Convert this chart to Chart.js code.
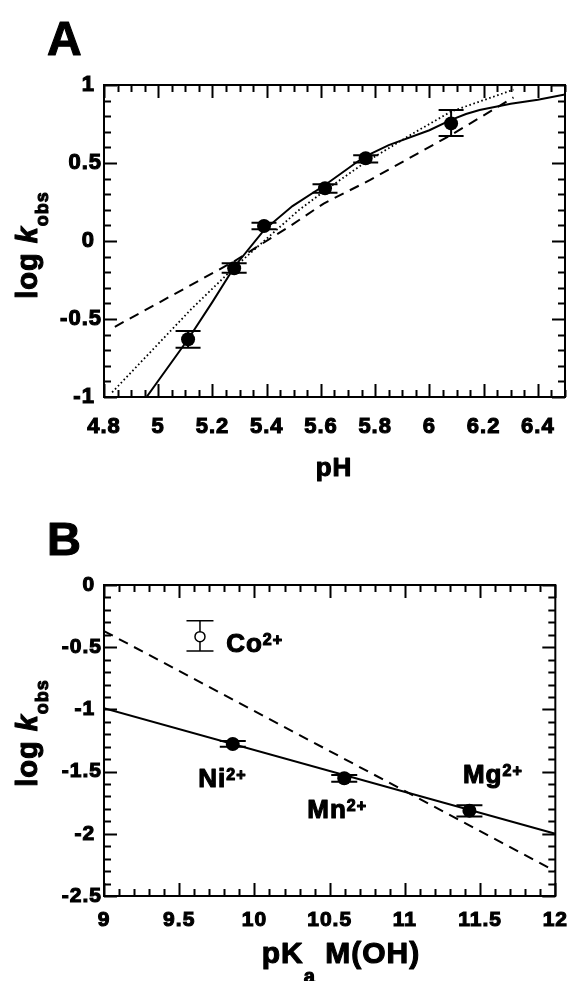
<!DOCTYPE html>
<html>
<head>
<meta charset="utf-8">
<script src="https://cdn.jsdelivr.net/npm/chart.js@4.4.1/dist/chart.umd.min.js"></script>
<style>
  html, body { margin: 0; padding: 0; background: #fff; }
  .panel { position: absolute; left: 0; width: 579px; }
  #panelA { top: 0; height: 490px; }
  #panelB { top: 490px; height: 491px; }
</style>
</head>
<body>
<div class="panel" id="panelA"><canvas id="chartA" width="579" height="490"></canvas></div>
<div class="panel" id="panelB"><canvas id="chartB" width="579" height="491"></canvas></div>
<script>
const FONT = "'Liberation Sans', Arial, Helvetica, sans-serif"
const bold = px => `bold ${px}px ${FONT}`
const TEXT_STROKE = 1.1

// Panel A: log kobs against pH
const phObs = [5.11, 5.28, 5.39, 5.615, 5.765, 6.08]
const logkA = [-0.63, -0.175, 0.096, 0.338, 0.53, 0.754]
const errHighA = [-0.577, -0.143, 0.117, 0.363, 0.55, 0.84]
const errLowA = [-0.684, -0.203, 0.075, 0.31, 0.504, 0.673]

// fitted curves
const solidPh = [4.957, 5.11, 5.2, 5.283, 5.39, 5.495, 5.615, 5.76, 5.85, 6.0, 6.08, 6.135, 6.185, 6.3, 6.4, 6.5]
const solidLogk = [-1, -0.63, -0.39, -0.16, 0.07, 0.224, 0.359, 0.54, 0.615, 0.71, 0.776, 0.814, 0.84, 0.88, 0.905, 0.94]
const dashedPh = [4.84, 5.28, 5.49, 5.61, 5.78, 6.08, 6.31]
const dashedLogk = [-0.55, -0.13, 0.1, 0.24, 0.39, 0.68, 0.92]
const dottedPh = [4.83, 5.12, 5.28, 5.39, 5.52, 5.62, 5.76, 5.94, 6.08, 6.31]
const dottedLogk = [-0.97, -0.44, -0.17, 0.0, 0.2, 0.33, 0.5, 0.69, 0.83, 0.97]

const xTicksA = [4.8, 5, 5.2, 5.4, 5.6, 5.8, 6, 6.2, 6.4]
const yTicksA = [-1, -0.5, 0, 0.5, 1]

// Panel B: log kobs against pKa of M(OH)
const ionNames = ['Ni', 'Mn', 'Mg']
const pkaIon = [9.856, 10.597, 11.429]
const logkB = [-1.278, -1.554, -1.814]
const errHighB = [-1.255, -1.527, -1.77]
const errLowB = [-1.3, -1.581, -1.86]
const labelPka = [9.627, 10.351, 11.386]
const labelLogk = [-1.621, -1.875, -1.594]

const pkaCo = [9.638]
const logkCo = [-0.415]
const errHighCo = [-0.287]
const errLowCo = [-0.531]
const labelCo = [9.812, -0.536]

const solidPka = [9, 12]
const solidLogkB = [-0.99, -2.0]
const dashedPka = [9, 12]
const dashedLogkB = [-0.37, -2.3]

const xTicksB = [9, 9.5, 10, 10.5, 11, 11.5, 12]
const yTicksB = [-2.5, -2, -1.5, -1, -0.5, 0]

const zip = (xs, ys) => xs.map((x, i) => ({ x, y: ys[i] }))

// frame round the plot with inward ticks on all four sides
const frameTicks = {
  id: 'frameTicks',
  afterDatasetsDraw(chart, args, opts) {
    const { ctx, chartArea: { left, right, top, bottom }, scales: { x, y } } = chart
    ctx.save()
    ctx.strokeStyle = '#000'
    ctx.lineWidth = 2
    ctx.setLineDash([])
    ctx.beginPath()
    const isMajor = (list, v) => list.some(t => Math.abs(t - v) < 1e-6)
    for (let v = x.min; v <= x.max + 1e-6; v += opts.xMinor) {
      const px = Math.round(x.getPixelForValue(v)) + 0.5
      const len = isMajor(opts.xMajor, v) ? 13 : 7
      ctx.moveTo(px, bottom); ctx.lineTo(px, bottom - len)
      ctx.moveTo(px, top); ctx.lineTo(px, top + len)
    }
    for (let v = y.min; v <= y.max + 1e-6; v += opts.yMinor) {
      const py = Math.round(y.getPixelForValue(v)) + 0.5
      const len = isMajor(opts.yMajor, v) ? 13 : 7
      ctx.moveTo(left, py); ctx.lineTo(left + len, py)
      ctx.moveTo(right, py); ctx.lineTo(right - len, py)
    }
    ctx.stroke()
    ctx.strokeRect(left, top, right - left, bottom - top)
    ctx.restore()
  },
}

// error bars taken from dataset.errorBars
const errorBars = {
  id: 'errorBars',
  beforeDatasetsDraw(chart) {
    const { ctx, scales: { x, y } } = chart
    chart.data.datasets.forEach(ds => {
      if (!ds.errorBars) return
      const { high, low, cap, width } = ds.errorBars
      ctx.save()
      ctx.strokeStyle = '#000'
      ctx.lineWidth = width
      ctx.setLineDash([])
      ds.data.forEach((p, i) => {
        const px = x.getPixelForValue(p.x)
        const y1 = y.getPixelForValue(high[i])
        const y2 = y.getPixelForValue(low[i])
        ctx.beginPath()
        ctx.moveTo(px, y1); ctx.lineTo(px, y2)
        ctx.moveTo(px - cap / 2, y1); ctx.lineTo(px + cap / 2, y1)
        ctx.moveTo(px - cap / 2, y2); ctx.lineTo(px + cap / 2, y2)
        ctx.stroke()
      })
      ctx.restore()
    })
  },
}

function drawParts(ctx, parts, x, y, align) {
  let w = 0
  parts.forEach(([text, font]) => { ctx.font = font; w += ctx.measureText(text).width })
  let cx = align === 'center' ? x - w / 2 : x
  parts.forEach(([text, font, dy]) => {
    ctx.font = font
    ctx.strokeText(text, cx, y + (dy || 0))
    ctx.fillText(text, cx, y + (dy || 0))
    cx += ctx.measureText(text).width
  })
}

// panel letters, axis titles and ion labels (mixed fonts, sub/superscripts)
const figText = {
  id: 'figText',
  beforeDraw(chart) {
    chart.ctx.letterSpacing = '1px'
  },
  afterDraw(chart, args, opts) {
    const { ctx, scales: { x, y } } = chart
    ctx.save()
    ctx.fillStyle = '#000'
    ctx.strokeStyle = '#000'
    ctx.lineWidth = TEXT_STROKE
    ctx.lineJoin = 'round'
    ctx.textBaseline = 'alphabetic'
    ctx.textAlign = 'left'
    opts.items.forEach(item => {
      let px = item.x
      let py = item.y
      if (item.data) {
        px = x.getPixelForValue(item.data[0])
        py = y.getPixelForValue(item.data[1])
      }
      if (item.rotate) {
        ctx.save()
        ctx.translate(px, py)
        ctx.rotate(-Math.PI / 2)
        drawParts(ctx, item.parts, 0, 0, 'center')
        ctx.restore()
      } else {
        drawParts(ctx, item.parts, px, py, item.align)
      }
    })
    ctx.restore()
  },
}

const yTitle = [['log ', bold(29)], ['k', `italic ${bold(29)}`], ['obs', bold(18), 11]]
const ionText = name => [[name, bold(26)], ['2+', bold(16), -7]]

function axes({ xMin, xMax, yMin, yMax, xTicks, yTicks, tickPx, xPad, xHeight }) {
  const font = { family: FONT, size: tickPx, weight: 'bold' }
  const ticks = { color: '#000', font, textStrokeColor: '#000', textStrokeWidth: TEXT_STROKE, autoSkip: false }
  return {
    x: {
      type: 'linear', position: 'bottom', min: xMin, max: xMax,
      grid: { display: false, drawTicks: false },
      border: { display: false },
      afterBuildTicks: s => { s.ticks = xTicks.map(value => ({ value })) },
      afterFit: s => { s.height = xHeight },
      ticks: { ...ticks, padding: xPad, maxRotation: 0, callback: v => `${v}` },
    },
    y: {
      type: 'linear', position: 'left', min: yMin, max: yMax,
      grid: { display: false, drawTicks: false },
      border: { display: false },
      afterBuildTicks: s => { s.ticks = yTicks.map(value => ({ value })) },
      afterFit: s => { s.width = 104 },
      ticks: { ...ticks, padding: 2, callback: v => (Number.isInteger(v) ? `${v} ` : `${v}`) },
    },
  }
}

const common = {
  responsive: false,
  animation: false,
  events: [],
  plugins: { legend: { display: false }, tooltip: { enabled: false } },
}

const lineSet = (xs, ys, dash, width) => ({
  type: 'scatter', data: zip(xs, ys), showLine: true, pointRadius: 0,
  borderColor: '#000', borderWidth: width || 2, borderDash: dash || [],
})

new Chart(document.getElementById('chartA'), {
  type: 'scatter',
  data: {
    datasets: [
      {
        data: zip(phObs, logkA), pointRadius: 7, pointBackgroundColor: '#000', pointBorderWidth: 0,
        errorBars: { high: errHighA, low: errLowA, cap: 25, width: 2 },
      },
      lineSet(solidPh, solidLogk),
      lineSet(dashedPh, dashedLogk, [10, 7]),
      lineSet(dottedPh, dottedLogk, [1.6, 2.6], 1.8),
    ],
  },
  options: {
    ...common,
    layout: { padding: { top: 85, right: 14, left: 0, bottom: 0 } },
    scales: axes({ xMin: 4.8, xMax: 6.5, yMin: -1, yMax: 1, xTicks: xTicksA, yTicks: yTicksA, tickPx: 22, xPad: 17, xHeight: 93 }),
    plugins: {
      ...common.plugins,
      frameTicks: { xMinor: 0.05, yMinor: 0.1, xMajor: xTicksA, yMajor: yTicksA },
      figText: {
        items: [
          { parts: [['A', bold(48)]], x: 47, y: 55 },
          { parts: [['pH', bold(26)]], x: 334, y: 476, align: 'center' },
          { parts: yTitle, x: 37, y: 245, rotate: true },
        ],
      },
    },
  },
  plugins: [errorBars, frameTicks, figText],
})

new Chart(document.getElementById('chartB'), {
  type: 'scatter',
  data: {
    datasets: [
      {
        data: zip(pkaIon, logkB), pointRadius: 7, pointBackgroundColor: '#000', pointBorderWidth: 0,
        errorBars: { high: errHighB, low: errLowB, cap: 26, width: 2 },
      },
      {
        data: zip(pkaCo, logkCo), pointRadius: 5, pointBackgroundColor: '#fff', pointBorderColor: '#000', pointBorderWidth: 1.5,
        errorBars: { high: errHighCo, low: errLowCo, cap: 27, width: 1.5 },
      },
      lineSet(solidPka, solidLogkB),
      lineSet(dashedPka, dashedLogkB, [10, 7]),
    ],
  },
  options: {
    ...common,
    layout: { padding: { top: 95, right: 16, left: 0, bottom: 0 } },
    scales: axes({ xMin: 9, xMax: 12, yMin: -2.5, yMax: 0, xTicks: xTicksB, yTicks: yTicksB, tickPx: 21, xPad: 12, xHeight: 85 }),
    plugins: {
      ...common.plugins,
      frameTicks: { xMinor: 0.1, yMinor: 0.1, xMajor: xTicksB, yMajor: yTicksB },
      figText: {
        items: [
          { parts: [['B', bold(47)]], x: 47, y: 65 },
          { parts: [['pK', bold(30)], ['a', bold(20), 20], [' M(OH)', bold(30)]], x: 341, y: 473, align: 'center' },
          { parts: yTitle, x: 37, y: 243, rotate: true },
          { parts: ionText('Co'), data: labelCo },
          ...ionNames.map((n, i) => ({ parts: ionText(n), data: [labelPka[i], labelLogk[i]] })),
        ],
      },
    },
  },
  plugins: [errorBars, frameTicks, figText],
})
</script>
</body>
</html>
